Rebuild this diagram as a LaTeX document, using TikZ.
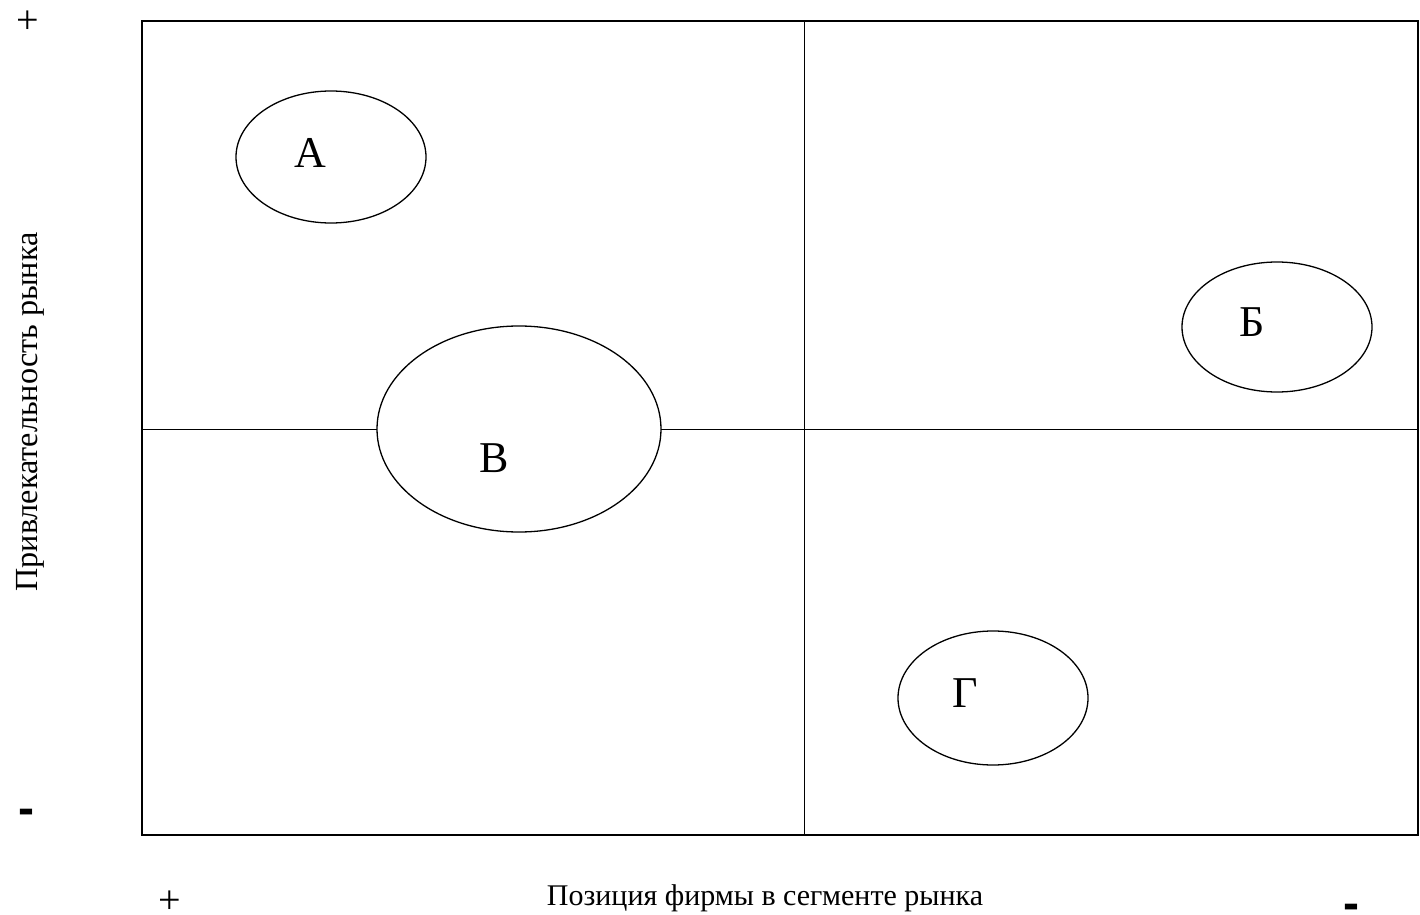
\documentclass[tikz,border=0pt]{standalone}
\usepackage{fontspec}
\setmainfont{Liberation Serif}
\newfontfamily\signfont{Liberation Sans}
\usetikzlibrary{shapes.geometric}

\begin{document}
\begin{tikzpicture}[x=0.5pt, y=-0.5pt,
        segment/.style={ellipse, draw, fill=white, line width=0.65pt, inner sep=0pt},
        seglabel/.style={font=\fontsize{22}{26}\selectfont, inner sep=0pt},
        axislabel/.style={font=\fontsize{15}{18}\selectfont, inner sep=0pt},
        sign/.style={font=\fontsize{20}{22}\selectfont, inner sep=0pt},
        minus/.style={font=\signfont\bfseries\fontsize{24}{26}\selectfont, inner sep=0pt}]
    \useasboundingbox (0,0) rectangle (1420,915);
    \coordinate (nw) at (142,21);
    \coordinate (se) at (1418,835);
    \coordinate (top) at (804,21);
    \coordinate (bottom) at (804,835);
    \coordinate (left) at (142,429);
    \coordinate (right) at (1418,429);
    \draw[line width=0.5pt] (top) -- (bottom);
    \draw[line width=0.5pt] (left) -- (right);
    \draw[line width=1pt] (nw) rectangle (se);

    \node[segment, minimum width=95pt, minimum height=66pt] (segA) at (331,157) {};
    \node[segment, minimum width=95pt, minimum height=65pt] (segB) at (1277,327) {};
    \node[segment, minimum width=142pt, minimum height=103pt] (segV) at (519,429) {};
    \node[segment, minimum width=95pt, minimum height=67pt] (segG) at (993,698) {};
    \node[seglabel] (labA) at (310,153) {А};
    \node[seglabel] (labB) at (1252,322) {Б};
    \node[seglabel] (labV) at (494,458) {В};
    \node[seglabel] (labG) at (965,693) {Г};

    \node[axislabel, rotate=90, font=\fontsize{16.1}{18}\selectfont] (attract) at (30,412) {Привлекательность рынка};
    \node[axislabel] (position) at (765,898) {Позиция фирмы в сегменте рынка};
    \node[sign] (plusY) at (28,22) {+};
    \node[minus] (minusY) at (26,817) {-};
    \node[sign] (plusX) at (170,902) {+};
    \node[minus] (minusX) at (1351,912) {-};
\end{tikzpicture}
\end{document}
